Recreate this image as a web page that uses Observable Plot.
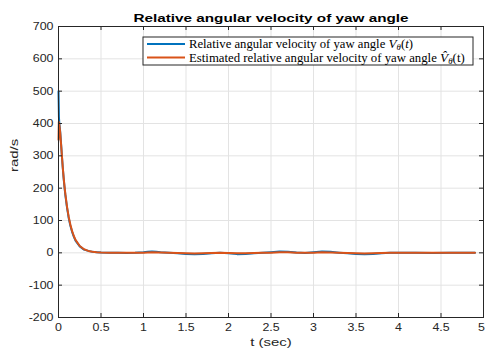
<!DOCTYPE html>
<html>
<head>
<meta charset="utf-8">
<script src="https://cdn.jsdelivr.net/npm/d3@7"></script>
<script src="https://cdn.jsdelivr.net/npm/@observablehq/plot@0.6"></script>
<style>
  html, body { margin: 0; padding: 0; background: #fff; }
  #chart { width: 485px; height: 356px; }
</style>
</head>
<body>
<div id="chart"></div>
<script>
// ---- data ----
const titleText = "Relative angular velocity of yaw angle";
const xLabel = "t (sec)";
const yLabel = "rad/s";
const xTicks = [0, 0.5, 1, 1.5, 2, 2.5, 3, 3.5, 4, 4.5, 5];
const yTicks = [-200, -100, 0, 100, 200, 300, 400, 500, 600, 700];

const tBlue = [0, 0.005, 0.01, 0.02, 0.03, 0.04, 0.05, 0.06, 0.07, 0.08, 0.10, 0.12, 0.14, 0.16, 0.18, 0.20, 0.25, 0.30, 0.35, 0.40, 0.45, 0.50, 0.60, 0.70, 0.80, 0.90, 1.00, 1.05, 1.10, 1.15, 1.20, 1.30, 1.40, 1.50, 1.60, 1.70, 1.80, 1.90, 2.00, 2.10, 2.20, 2.30, 2.40, 2.50, 2.60, 2.70, 2.80, 2.90, 3.00, 3.10, 3.20, 3.30, 3.40, 3.50, 3.60, 3.70, 3.80, 3.90, 4.00, 4.20, 4.40, 4.60, 4.80, 4.90];
const vBlue = [500, 420, 400, 375, 338, 300, 264, 232, 205, 180, 140, 108, 84, 65, 50, 38, 20, 10, 6, 3, 2, 1, 0, 0, -0.5, 0, 1.5, 3, 4, 3.5, 2, 0, -1.5, -3.5, -4.5, -3.5, -1, 0.5, -1.5, -4, -3.5, -1, 0.5, 2, 4, 3.5, 1, -0.5, 1.5, 4, 3, 0.5, -1.5, -3.5, -4.5, -3.5, -1, 0, 0.5, 0, -0.5, 0, 0, 0];

const tOrange = [0, 0.004, 0.01, 0.02, 0.03, 0.04, 0.05, 0.06, 0.07, 0.08, 0.10, 0.12, 0.14, 0.16, 0.18, 0.20, 0.25, 0.30, 0.35, 0.40, 0.45, 0.50, 0.60, 0.70, 0.80, 0.90, 1.00, 1.10, 1.20, 1.30, 1.40, 1.50, 1.60, 1.70, 1.80, 1.90, 2.00, 2.10, 2.20, 2.30, 2.40, 2.50, 2.60, 2.70, 2.80, 2.90, 3.00, 3.10, 3.20, 3.30, 3.40, 3.50, 3.60, 3.70, 3.80, 3.90, 4.00, 4.20, 4.40, 4.60, 4.80, 4.90];
const vOrange = [350, 405, 395, 372, 336, 300, 265, 234, 207, 183, 143, 111, 87, 67, 52, 40, 21, 11, 6, 3.5, 2, 1, 0, 0, 0, 0, 0.5, 1.5, 1, 0, -0.5, -1.5, -2, -1.5, -0.5, 0, -0.5, -1.5, -1.5, -0.5, 0, 0.5, 1.5, 1.5, 0.5, 0, 0.5, 1.5, 1, 0, -0.5, -1.5, -2, -1.5, -0.5, 0, 0, 0, 0, 0, 0, 0];

const blueColor = "#0072BD";
const orangeColor = "#D95319";

const blueData = tBlue.map((t, i) => ({t, v: vBlue[i]}));
const orangeData = tOrange.map((t, i) => ({t, v: vOrange[i]}));

const W = 485, H = 356;
const mL = 58, mR = 2, mT = 26, mB = 39;
const innerW = W - mL - mR, innerH = H - mT - mB;
const axisColor = "#262626";
const gridColor = "#e3e3e3";

const chart = Plot.plot({
  width: W,
  height: H,
  marginLeft: mL,
  marginRight: mR,
  marginTop: mT,
  marginBottom: mB,
  style: {fontFamily: "'Liberation Sans', Arial, Helvetica, sans-serif", fontSize: "11px", color: axisColor, background: "#fff", overflow: "visible"},
  x: {domain: [0, 5]},
  y: {domain: [-200, 700]},
  marks: [
    Plot.gridX(xTicks, {stroke: gridColor, strokeOpacity: 1}),
    Plot.gridY(yTicks, {stroke: gridColor, strokeOpacity: 1}),
    Plot.line(blueData, {x: "t", y: "v", stroke: blueColor, strokeWidth: 2}),
    Plot.line(orangeData, {x: "t", y: "v", stroke: orangeColor, strokeWidth: 2}),
    // inward ticks, all four sides
    Plot.tickX(xTicks, {x: d => d, stroke: axisColor, insetTop: innerH - 4}),
    Plot.tickX(xTicks, {x: d => d, stroke: axisColor, insetBottom: innerH - 4}),
    Plot.tickY(yTicks, {y: d => d, stroke: axisColor, insetRight: innerW - 4}),
    Plot.tickY(yTicks, {y: d => d, stroke: axisColor, insetLeft: innerW - 4}),
    Plot.frame({stroke: axisColor, strokeWidth: 1}),
    Plot.axisX(xTicks, {tickSize: 0, tickPadding: 6, tickFormat: d => String(d), label: null, fill: axisColor}),
    Plot.axisY(yTicks, {tickSize: 0, tickPadding: 5, tickFormat: d => String(d), label: null, fill: axisColor}),
    Plot.text([xLabel], {frameAnchor: "bottom", dy: 28, fontSize: 11.5, fill: axisColor}),
    Plot.text([yLabel], {frameAnchor: "left", dx: -44, rotate: -90, fontSize: 11.5, fill: axisColor}),
    Plot.text([titleText], {frameAnchor: "top", dy: -13, fontWeight: "bold", fontSize: 11.5, fill: "#000"})
  ]
});

document.getElementById("chart").appendChild(chart);

// the reference's sans-serif texts are horizontally stretched; reproduce that
const svg = d3.select(chart);
svg.selectAll("text").each(function () {
  const s = this.textContent;
  let k = 1.13;
  let pre = "";
  if (s === titleText) k = 1.33;
  else if (s === xLabel || s === yLabel) k = 1.3;
  else if (s === "5") pre = " translate(-2,0)";
  const tr = this.getAttribute("transform") || "";
  this.setAttribute("transform", (tr + pre + ` scale(${k},1)`).trim());
});

// ---- legend (inside plot area, top right) ----
const lg = svg.append("g")
  .attr("font-family", "'Liberation Serif', 'Times New Roman', serif")
  .attr("font-size", 11.5).attr("fill", "#000").attr("text-anchor", "start");
const bx = 143, by = 37, bw = 330, bh = 28;
lg.append("rect").attr("x", bx).attr("y", by).attr("width", bw).attr("height", bh).attr("fill", "#fff").attr("stroke", axisColor).attr("stroke-width", 1);
const legendItems = [
  {color: blueColor, base: "Relative angular velocity of yaw angle ", hat: false, y: by + 7, target: 224},
  {color: orangeColor, base: "Estimated relative angular velocity of yaw angle ", hat: true, y: by + 20.5, target: 276}
];
const tx0 = bx + 46;
legendItems.forEach(it => {
  lg.append("line").attr("x1", bx + 4).attr("x2", bx + 42).attr("y1", it.y).attr("y2", it.y).attr("stroke", it.color).attr("stroke-width", 2);
  const tx = lg.append("text").attr("x", tx0).attr("y", it.y).attr("dy", "0.35em").attr("text-anchor", "start");
  tx.append("tspan").text(it.base);
  tx.append("tspan").attr("font-style", "italic").attr("font-size", 12).text(it.hat ? "V\u0302" : "V");
  tx.append("tspan").attr("font-style", "italic").attr("font-size", 8).attr("dy", 2).text("\u03b8");
  tx.append("tspan").attr("dy", -2).text("(");
  tx.append("tspan").attr("font-style", it.hat ? "normal" : "italic").text("t");
  tx.append("tspan").text(")");
  const len = tx.node().getComputedTextLength();
  if (len > 0) {
    const k = it.target / len;
    tx.attr("transform", `translate(${tx0},0) scale(${k},1) translate(${-tx0},0)`);
  }
});
</script>
</body>
</html>
